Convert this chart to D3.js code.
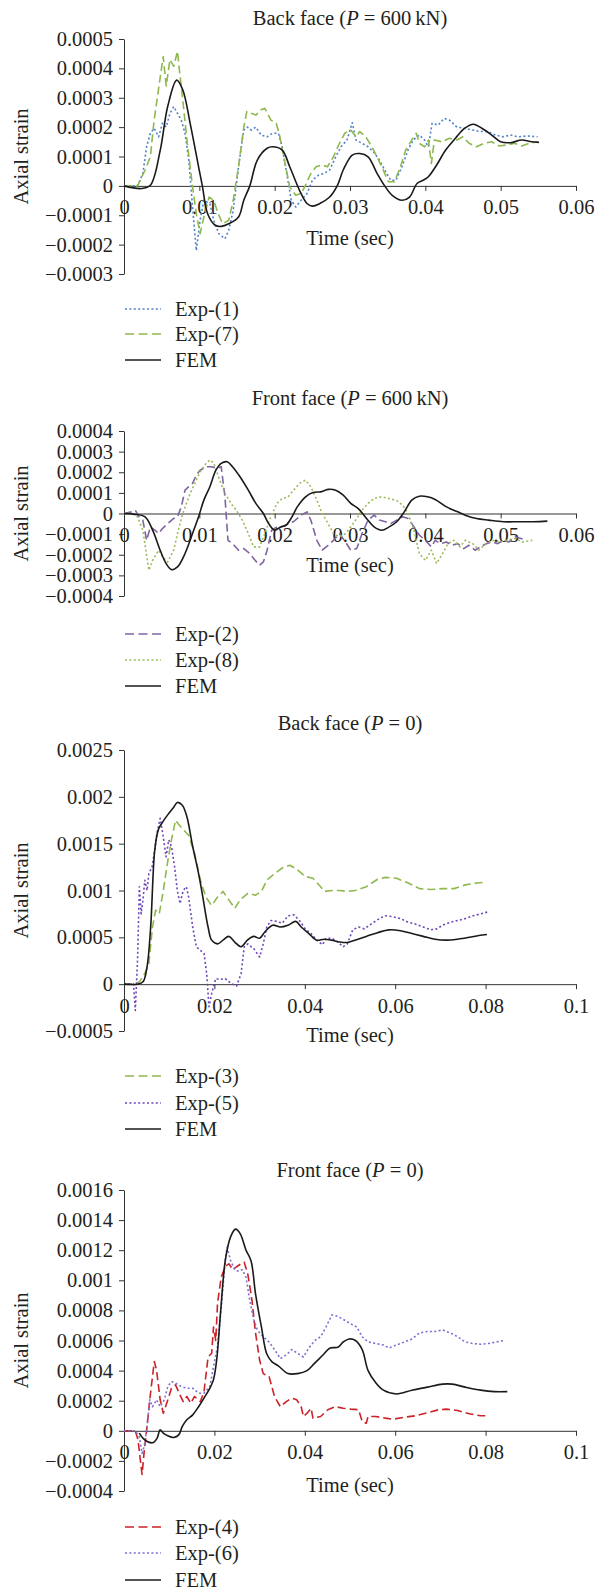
<!DOCTYPE html>
<html><head><meta charset="utf-8">
<script src="https://cdn.jsdelivr.net/npm/d3@7"></script>
<style>
body{margin:0;background:#fff}
svg{display:block}
text{font-family:"Liberation Serif","Times New Roman",serif;fill:#231f20}
</style>
</head><body>
<svg id="chart" width="597" height="1591"></svg>
<script>
// ---- DATA: [time (ms), axial strain (x 1e-4)] ----
const back600_exp1 = [[0,0],[1.8,0],[2.5,0.42],[3.0,1.33],[3.5,1.79],[4.0,1.96],[4.6,1.67],[5.1,2.13],[5.6,2.0],[6.1,2.47],[6.6,2.7],[7.1,2.47],[7.6,2.24],[8.1,1.79],[8.6,0.88],[9.1,-0.72],[9.6,-2.2],[10.1,-1.17],[10.6,-0.49],[11.4,-0.6],[11.9,-1.17],[12.6,-1.63],[13.4,-1.8],[13.9,-1.51],[14.5,-0.83],[15.2,0.65],[15.9,1.9],[16.4,2.0],[16.9,1.9],[17.5,2.0],[18.2,1.73],[19.0,1.67],[19.7,1.79],[20.5,1.79],[21.0,1.33],[21.6,0.42],[22.2,-0.49],[22.8,-0.72],[23.5,-0.49],[24.3,-0.26],[25.0,0.19],[25.8,0.36],[26.5,0.42],[27.3,0.54],[28.1,0.99],[28.8,1.33],[29.6,1.56],[30.3,2.15],[30.8,1.56],[31.6,1.45],[32.4,1.33],[33.1,1.16],[33.9,0.88],[34.6,0.54],[35.4,0.19],[36.1,0.19],[36.9,0.65],[37.7,1.22],[38.4,1.56],[39.2,1.73],[39.9,1.56],[40.4,1.33],[40.9,2.13],[41.7,2.07],[42.5,2.3],[43.2,2.24],[44.2,2.0],[45.2,1.96],[46.3,1.9],[47.3,1.85],[48.3,1.85],[49.3,1.73],[50.3,1.67],[51.3,1.73],[52.3,1.67],[53.6,1.7],[54.9,1.67]];
const back600_exp7 = [[0,0],[1.8,0],[2.8,0.54],[3.5,0.99],[4.0,2.24],[4.7,3.5],[5.2,4.4],[5.6,3.4],[6.1,4.3],[6.6,4.07],[7.1,4.58],[7.3,4.07],[7.8,2.93],[8.4,1.45],[9.1,-0.03],[9.6,-0.95],[10.1,-1.63],[10.6,-1.06],[11.3,-0.38],[11.9,-0.49],[12.5,-0.95],[13.1,-1.29],[13.9,-1.17],[14.5,-0.49],[15.2,0.65],[15.9,2.0],[16.3,2.53],[16.9,2.47],[17.5,2.41],[18.2,2.59],[18.7,2.64],[19.5,2.24],[20.2,2.13],[20.6,1.79],[21.2,0.99],[22.0,-0.03],[22.8,-0.32],[23.5,-0.26],[24.0,-0.03],[24.8,0.42],[25.5,0.65],[26.3,0.71],[27.0,0.65],[27.8,0.99],[28.6,1.45],[29.3,1.79],[30.1,1.9],[30.8,1.67],[31.3,1.85],[32.1,1.67],[32.9,1.33],[33.6,0.99],[34.4,0.54],[35.1,0.14],[35.9,0.14],[36.7,0.65],[37.4,1.22],[38.2,1.56],[38.8,1.79],[39.2,1.45],[39.9,1.33],[40.4,1.56],[40.8,0.76],[41.2,1.56],[42.2,1.5],[43.2,1.62],[44.2,1.56],[45.0,1.67],[45.8,1.45],[46.8,1.33],[47.8,1.45],[48.8,1.5],[49.8,1.36],[50.8,1.39],[51.8,1.45],[52.8,1.36],[53.8,1.45],[54.9,1.5]];
const back600_fem = [[0,0],[2.3,-0.09],[3.5,0.02],[4.8,1.2],[5.8,2.7],[7.0,3.6],[7.8,3.27],[8.8,2.1],[9.9,0.65],[10.4,0],[11.1,-0.95],[12.1,-1.34],[12.9,-1.38],[13.9,-1.29],[15.2,-1.06],[15.9,-0.49],[16.7,0],[17.7,0.88],[19.0,1.28],[19.7,1.33],[21.0,1.22],[22.0,0.65],[23.3,-0.15],[24.3,-0.6],[25.0,-0.69],[26.0,-0.6],[27.3,-0.38],[28.3,0],[29.1,0.54],[30.3,1.05],[31.3,1.1],[32.4,0.99],[33.6,0.42],[34.6,0],[35.6,-0.32],[36.9,-0.49],[37.9,-0.38],[38.9,0.08],[39.7,0.19],[40.4,0.31],[41.5,0.71],[42.7,1.22],[44.0,1.62],[45.2,1.96],[46.4,2.1],[47.5,1.96],[48.8,1.73],[50.0,1.5],[51.3,1.47],[52.8,1.56],[54.1,1.5],[55.1,1.48]];

const front600_exp2 = [[0,0],[1.0,0.08],[1.5,0.16],[2.0,-0.16],[2.5,-0.32],[3.0,-1.3],[3.5,-0.65],[4.1,-0.81],[4.6,-0.97],[5.1,-0.73],[5.8,-0.49],[6.6,-0.24],[7.1,-0.16],[7.6,0.32],[8.1,1.13],[8.6,1.3],[9.1,1.46],[9.6,1.86],[10.1,2.1],[10.9,2.27],[11.6,2.27],[12.4,2.19],[12.9,2.27],[13.4,0.81],[13.8,-1.3],[14.4,-1.46],[15.2,-1.78],[15.9,-1.7],[16.7,-1.94],[17.4,-2.27],[18.0,-2.51],[18.5,-2.35],[19.0,-1.78],[19.6,-0.81],[20.3,-0.65],[21.0,-0.65],[21.8,-0.49],[22.5,-0.4],[23.5,-0.08],[24.3,0.08],[24.8,-0.32],[25.6,-1.3],[26.3,-1.78],[27.1,-1.54],[27.8,-1.3],[28.6,-0.97],[29.4,-1.38],[30.1,-1.78],[30.9,-1.7],[31.6,-0.97],[32.4,-0.32],[33.2,-0.08],[33.9,-0.32],[34.7,-0.4],[35.4,-0.49],[36.2,-0.32],[37.0,-0.16],[37.7,-0.24],[38.5,-0.65],[39.2,-1.05],[40.0,-1.3],[40.8,-1.62],[41.3,-1.3],[42.0,-1.46],[42.8,-1.38],[43.5,-1.54],[44.3,-1.46],[45.1,-1.7],[45.8,-1.54],[46.6,-1.78],[47.3,-1.62],[48.1,-1.46],[48.9,-1.38],[49.6,-1.46],[50.4,-1.3],[51.1,-1.38],[51.9,-1.13],[52.7,-1.21],[53.4,-1.3]];
const front600_exp8 = [[0,0],[1.0,0],[1.8,-0.16],[2.5,-0.81],[3.3,-2.75],[3.8,-2.27],[4.6,-1.78],[5.1,-2.1],[5.8,-2.35],[6.6,-1.78],[7.1,-0.97],[7.8,0],[8.6,0.81],[9.4,1.46],[10.1,2.02],[10.9,2.43],[11.4,2.59],[11.9,2.46],[12.7,1.62],[13.4,0.97],[14.2,0.49],[14.9,0.16],[15.7,-0.32],[16.5,-0.97],[17.2,-1.62],[18.0,-1.62],[18.7,-0.97],[19.5,-0.16],[20.3,0.49],[21.0,0.73],[21.8,0.81],[22.5,1.13],[23.3,1.46],[24.1,1.62],[24.8,1.3],[25.6,0.65],[26.3,0],[27.1,-0.49],[27.8,-0.97],[28.6,-1.13],[29.4,-0.97],[30.1,-0.65],[30.9,-0.24],[31.6,0.16],[32.4,0.49],[33.2,0.73],[34.2,0.81],[35.2,0.73],[36.2,0.62],[37.0,0.4],[37.7,0],[38.5,-0.81],[39.2,-1.94],[40.0,-2.27],[40.8,-1.78],[41.5,-2.43],[42.3,-1.94],[43.0,-1.46],[43.8,-1.3],[44.6,-1.62],[45.3,-1.3],[46.3,-1.46],[47.1,-1.78],[47.8,-1.54],[48.9,-1.3],[49.9,-1.38],[50.9,-1.3],[51.9,-1.21],[52.9,-1.38],[54.2,-1.3]];
const front600_fem = [[0,0],[1.3,-0.03],[2.8,-0.16],[3.8,-0.81],[4.8,-1.78],[5.6,-2.43],[6.3,-2.72],[7.1,-2.59],[8.1,-1.94],[9.1,-0.97],[9.9,-0.16],[10.6,0.65],[11.4,1.3],[12.2,2.1],[12.9,2.43],[13.7,2.51],[14.4,2.27],[15.4,1.78],[16.5,1.13],[17.5,0.49],[18.5,0],[19.2,-0.49],[20.0,-0.81],[20.8,-0.65],[21.5,-0.57],[22.3,-0.16],[23.0,0.32],[24.1,0.81],[25.1,1.02],[26.1,1.05],[27.1,1.17],[28.1,1.13],[29.1,0.89],[30.1,0.49],[31.1,0.24],[32.2,-0.24],[33.2,-0.65],[34.2,-0.81],[35.2,-0.65],[36.2,-0.4],[37.2,0.08],[38.2,0.65],[39.2,0.84],[40.3,0.81],[41.3,0.68],[42.8,0.32],[44.3,0.08],[45.3,-0.08],[46.8,-0.24],[48.4,-0.32],[50.4,-0.4],[52.4,-0.4],[54.4,-0.4],[56.2,-0.37]];

const back0_exp3 = [[0,0],[2.1,0],[3.4,0.25],[4.6,1.14],[5.5,2.2],[6.3,6.1],[7.0,7.9],[7.8,7.5],[8.7,10.0],[9.7,13.2],[10.5,15.4],[11.4,17.5],[12.2,17.0],[13.1,16.5],[14.3,15.9],[15.6,14.0],[16.9,11.1],[18.1,9.3],[19.4,8.4],[20.7,9.3],[21.9,9.9],[23.2,9.0],[24.5,8.1],[25.7,9.0],[27.4,9.7],[29.1,9.5],[30.4,9.9],[31.6,11.1],[33.3,11.8],[35.0,12.4],[36.7,12.7],[38.4,12.2],[40.1,11.5],[41.8,11.3],[43.5,10.4],[44.3,9.9],[46.0,10.0],[47.7,10.0],[49.4,9.9],[51.1,10.0],[53.6,10.4],[56.1,11.2],[57.8,11.4],[60.3,11.3],[62.9,10.8],[65.4,10.2],[67.9,10.1],[70.5,10.2],[73.0,10.2],[75.5,10.6],[78.1,10.8],[80.2,10.9]];
const back0_exp5 = [[0,0],[2.1,0],[2.5,-2.8],[3.0,2.6],[3.4,10.4],[3.8,7.5],[4.2,9.0],[4.6,11.1],[5.1,10.0],[5.5,11.8],[6.2,12.5],[6.8,14.3],[7.3,16.1],[8.0,17.7],[8.7,15.7],[9.3,13.6],[9.9,15.4],[10.5,14.7],[11.2,12.5],[11.8,10.0],[12.4,8.6],[13.1,10.0],[13.8,10.4],[14.3,9.3],[15.2,6.1],[16.0,4.0],[16.9,3.6],[17.7,3.3],[18.3,1.1],[18.8,-2.4],[19.4,-1.0],[20.3,0.6],[21.1,0.5],[22.4,0.6],[23.6,0.1],[24.9,-0.2],[25.9,1.1],[26.6,4.0],[27.4,4.3],[28.7,3.8],[30.0,2.9],[30.8,4.3],[31.6,6.1],[32.5,6.8],[33.8,6.7],[35.0,6.5],[36.3,7.3],[37.6,7.4],[38.8,6.8],[40.1,5.9],[41.4,5.4],[42.6,4.7],[43.9,4.2],[44.7,4.9],[46.0,4.9],[47.3,4.5],[48.5,4.0],[49.4,4.3],[50.6,5.8],[51.9,6.1],[53.2,5.9],[54.9,6.5],[56.5,7.0],[57.8,7.3],[59.5,7.2],[61.2,7.0],[62.9,6.6],[64.6,6.4],[66.2,6.1],[67.9,5.8],[69.2,5.9],[70.5,6.3],[72.2,6.6],[73.8,6.8],[75.5,7.0],[77.2,7.3],[78.9,7.5],[80.4,7.7]];
const back0_fem = [[0,0],[3.0,0],[4.2,0.25],[5.1,1.85],[5.9,6.1],[6.8,14.3],[7.6,16.5],[8.4,17.2],[9.7,18.1],[11.0,18.9],[11.8,19.4],[12.9,19.1],[13.9,17.9],[15.2,14.7],[16.5,11.8],[17.3,9.7],[18.6,6.1],[19.4,4.7],[20.7,4.3],[21.9,4.7],[23.2,5.1],[24.5,4.5],[25.9,4.0],[27.3,4.7],[28.7,5.1],[30.0,4.9],[31.2,5.6],[32.9,6.3],[34.6,6.1],[36.3,6.3],[38.0,6.7],[39.2,6.1],[40.9,5.4],[42.6,4.7],[44.3,4.8],[45.9,4.7],[47.7,4.5],[49.4,4.45],[51.1,4.7],[53.6,5.1],[56.1,5.5],[58.6,5.8],[61.2,5.7],[63.7,5.4],[66.2,5.1],[68.8,4.8],[71.3,4.7],[73.8,4.8],[76.4,5.0],[78.5,5.2],[80.3,5.3]];

const front0_exp4 = [[0,0],[2.5,0],[3.1,-0.6],[3.6,-1.9],[4.0,-2.9],[4.5,-1.26],[5.1,0.29],[5.7,2.06],[6.3,3.6],[6.7,4.6],[7.2,4.04],[8.0,2.06],[8.7,1.17],[9.7,2.06],[10.5,2.83],[11.4,3.05],[12.2,2.5],[13.1,1.94],[13.9,2.28],[14.8,1.83],[15.6,2.28],[16.9,1.94],[17.7,2.6],[18.6,4.9],[19.4,5.15],[19.8,6.9],[20.3,6.0],[20.7,8.5],[21.5,10.2],[22.4,10.9],[23.2,11.1],[24.1,10.7],[24.9,10.9],[25.9,11.1],[26.6,11.2],[27.4,10.4],[28.3,8.7],[29.1,6.5],[30.0,4.7],[30.8,3.8],[32.1,3.6],[33.3,2.28],[34.6,1.6],[35.9,1.94],[37.1,2.17],[38.2,2.06],[39.2,1.6],[39.7,0.95],[40.5,1.17],[41.4,1.5],[41.8,0.84],[43.5,0.95],[45.1,1.4],[46.8,1.6],[48.5,1.5],[50.2,1.44],[51.9,1.4],[52.7,0.62],[53.6,0.5],[54.0,0.95],[55.7,0.95],[57.8,0.84],[59.5,0.77],[62.0,0.9],[64.6,1.0],[67.1,1.2],[69.6,1.4],[71.3,1.44],[73.8,1.35],[76.4,1.13],[78.9,1.0],[80.8,1.0]];
const front0_exp6 = [[0,0],[2.5,0],[3.4,-0.4],[4.0,-1.5],[4.5,-1.0],[5.1,0.29],[5.7,2.06],[6.3,1.6],[7.2,2.06],[8.0,1.6],[8.9,2.06],[9.7,2.94],[10.5,3.27],[11.4,3.16],[12.7,2.94],[13.9,2.83],[15.2,2.83],[16.5,2.5],[17.7,2.5],[19.0,2.94],[19.8,4.27],[20.7,5.6],[21.5,8.2],[22.4,11.3],[22.8,12.2],[23.6,11.3],[24.5,10.7],[25.3,10.6],[26.2,10.7],[27.0,10.2],[27.8,8.7],[28.7,7.4],[29.5,6.7],[30.8,6.25],[32.1,5.9],[33.3,5.4],[34.6,4.8],[35.9,5.04],[37.1,5.4],[38.4,5.15],[39.7,4.9],[40.9,5.5],[42.2,6.0],[43.5,6.25],[44.7,6.9],[46.0,7.7],[47.3,7.6],[48.5,7.4],[50.2,7.1],[51.5,6.9],[52.7,6.25],[54.0,5.9],[55.7,5.8],[57.4,5.7],[58.6,5.5],[60.3,5.7],[62.0,5.9],[63.7,6.1],[65.4,6.5],[67.1,6.6],[68.8,6.6],[70.5,6.7],[72.2,6.5],[73.8,6.25],[75.5,5.9],[77.2,5.8],[78.9,5.75],[80.6,5.8],[82.3,5.9],[84.1,6.0]];
const front0_fem = [[3.4,-0.15],[4.6,-0.6],[6.3,-0.8],[7.3,-0.5],[8.0,0.07],[8.7,-0.15],[9.7,-0.33],[11.0,-0.44],[12.1,-0.27],[12.9,0.29],[13.9,0.73],[15.2,1.06],[16.5,1.6],[17.7,2.17],[19.0,2.83],[19.8,3.4],[20.5,4.7],[21.4,8.0],[22.4,11.3],[23.6,12.9],[24.7,13.4],[25.7,13.1],[27.0,12.0],[28.1,11.3],[29.1,9.1],[30.4,6.9],[31.6,5.1],[32.7,4.6],[34.2,4.3],[36.3,3.8],[38.4,3.8],[40.5,4.0],[42.2,4.5],[43.9,5.0],[45.6,5.5],[47.3,5.55],[48.5,5.9],[49.8,6.1],[51.2,6.0],[52.7,5.4],[54.0,4.0],[55.7,3.2],[57.4,2.7],[60.3,2.45],[63.7,2.7],[67.1,2.9],[70.5,3.1],[72.6,3.1],[75.5,2.9],[78.9,2.7],[81.9,2.6],[84.8,2.6]];

// ---- axis ticks & labels ----
const ticksX60 = [0,10,20,30,40,50,60];
const labelsX60 = ["0","0.01","0.02","0.03","0.04","0.05","0.06"];
const ticksX100 = [0,20,40,60,80,100];
const labelsX100 = ["0","0.02","0.04","0.06","0.08","0.1"];
const ticksY1 = [-3,-2,-1,0,1,2,3,4,5];
const labelsY1 = ["\u22120.0003","\u22120.0002","\u22120.0001","0","0.0001","0.0002","0.0003","0.0004","0.0005"];
const ticksY2 = [-4,-3,-2,-1,0,1,2,3,4];
const labelsY2 = ["\u22120.0004","\u22120.0003","\u22120.0002","\u22120.0001","0","0.0001","0.0002","0.0003","0.0004"];
const ticksY3 = [-5,0,5,10,15,20,25];
const labelsY3 = ["\u22120.0005","0","0.0005","0.001","0.0015","0.002","0.0025"];
const ticksY4 = [-4,-2,0,2,4,6,8,10,12,14,16];
const labelsY4 = ["\u22120.0004","\u22120.0002","0","0.0002","0.0004","0.0006","0.0008","0.001","0.0012","0.0014","0.0016"];

const titles = [["Back face (","P"," = 600\u2009kN)"],["Front face (","P"," = 600\u2009kN)"],["Back face (","P"," = 0)"],["Front face (","P"," = 0)"]];
const legendNames = [["Exp-(1)","Exp-(7)","FEM"],["Exp-(2)","Exp-(8)","FEM"],["Exp-(3)","Exp-(5)","FEM"],["Exp-(4)","Exp-(6)","FEM"]];

// ---- styles ----
const FONT = "Liberation Serif, Times New Roman, serif";
const DOT = "2,2.4", DASH = "8,4";
const styles = [
  [{c:"#4f81c7",d:DOT},{c:"#8fb84e",d:DASH},{c:"#1a1a1a",d:null}],
  [{c:"#8064a2",d:DASH},{c:"#9bbb59",d:DOT},{c:"#1a1a1a",d:null}],
  [{c:"#8fb84e",d:DASH},{c:"#6e46b8",d:DOT},{c:"#1a1a1a",d:null}],
  [{c:"#cc2229",d:DASH},{c:"#7f6cd0",d:DOT},{c:"#1a1a1a",d:null}]
];
const seriesData = [
  [back600_exp1, back600_exp7, back600_fem],
  [front600_exp2, front600_exp8, front600_fem],
  [back0_exp3, back0_exp5, back0_fem],
  [front0_exp4, front0_exp6, front0_fem]
];
const layouts = [
  {xMax:60, xt:ticksX60, xl:labelsX60, yt:ticksY1, yl:labelsY1, top:39, bottom:274, titleY:18, xTitleY:238, leg:[309,334,360]},
  {xMax:60, xt:ticksX60, xl:labelsX60, yt:ticksY2, yl:labelsY2, top:431, bottom:596, titleY:398, xTitleY:565, leg:[634,660,686]},
  {xMax:100, xt:ticksX100, xl:labelsX100, yt:ticksY3, yl:labelsY3, top:750, bottom:1031, titleY:723, xTitleY:1035, leg:[1076,1103,1129]},
  {xMax:100, xt:ticksX100, xl:labelsX100, yt:ticksY4, yl:labelsY4, top:1190, bottom:1491, titleY:1170, xTitleY:1485, leg:[1527,1553,1580]}
];

const svg = d3.select("#chart");
const X0 = 124, X1 = 576, FS = 20.5, AX = "#333";

layouts.forEach((L, p) => {
  const g = svg.append("g");
  const x = d3.scaleLinear().domain([0, L.xMax]).range([X0, X1]);
  const yt = L.yt;
  const y = d3.scaleLinear().domain([yt[0], yt[yt.length-1]]).range([L.bottom, L.top]);

  // y axis
  const ya = g.append("g").attr("transform", `translate(${X0},0)`)
    .call(d3.axisLeft(y).tickValues(yt).tickFormat((d,i)=>L.yl[i]).tickSize(5).tickSizeOuter(0).tickPadding(6));
  ya.attr("color", AX).attr("font-family", FONT).attr("font-size", FS);
  ya.selectAll("text").attr("font-family", FONT).attr("font-size", FS).style("fill","#231f20");

  // x axis at zero
  const xa = g.append("g").attr("transform", `translate(0,${y(0)})`)
    .call(d3.axisBottom(x).tickValues(L.xt).tickFormat((d,i)=>L.xl[i]).tickSize(5).tickSizeOuter(0).tickPadding(9));
  xa.attr("color", AX).attr("font-family", FONT).attr("font-size", FS);
  xa.selectAll("text").attr("font-family", FONT).attr("font-size", FS).style("fill","#231f20");

  // series
  seriesData[p].forEach((data, s) => {
    const st = styles[p][s];
    const line = d3.line().x(d=>x(d[0])).y(d=>y(d[1]))
      .curve(st.d ? d3.curveLinear : d3.curveCatmullRom.alpha(0.5));
    g.append("path").datum(data).attr("d", line)
      .attr("fill","none").attr("stroke", st.c)
      .attr("stroke-width", 1.6)
      .attr("stroke-dasharray", st.d)
      .attr("stroke-linejoin","round");
  });

  // title
  const t = g.append("text").attr("x", (X0+X1)/2).attr("y", L.titleY).attr("dy","0.35em")
    .attr("text-anchor","middle").attr("font-family", FONT).attr("font-size", FS);
  titles[p].forEach((part, i) => t.append("tspan").text(part).attr("font-style", i===1?"italic":null));

  // axis titles
  g.append("text").attr("x", (X0+X1)/2).attr("y", L.xTitleY).attr("dy","0.35em")
    .attr("text-anchor","middle").attr("font-family", FONT).attr("font-size", FS).text("Time (sec)");
  g.append("text").attr("transform", `translate(21,${(L.top+L.bottom)/2}) rotate(-90)`)
    .attr("dy","0.35em").attr("text-anchor","middle").attr("font-family", FONT).attr("font-size", FS).text("Axial strain");

  // legend
  legendNames[p].forEach((name, s) => {
    const st = styles[p][s];
    const ly = L.leg[s];
    g.append("line").attr("x1",125).attr("x2",161).attr("y1",ly).attr("y2",ly)
      .attr("stroke", st.c).attr("stroke-width", 1.6).attr("stroke-dasharray", st.d ? (st.d===DASH ? "9,4.5" : DOT) : null);
    g.append("text").attr("x",175).attr("y",ly).attr("dy","0.35em").attr("font-family", FONT).attr("font-size", FS).text(name);
  });
});
</script>
</body></html>
